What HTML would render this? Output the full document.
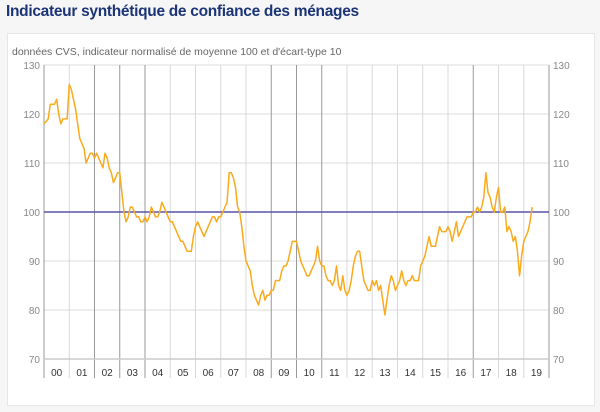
<!DOCTYPE html>
<html><head><meta charset="utf-8"><style>
body{margin:0;background:#f6f6f6;width:600px;height:412px;overflow:hidden;font-family:"Liberation Sans",sans-serif}
#title{position:absolute;left:6px;top:3px;font-size:15.5px;font-weight:bold;color:#1c3577;letter-spacing:-0.3px}
#card{position:absolute;left:7px;top:33px;width:586px;height:371px;background:#fff;border:1px solid #e6e6e6}
svg{position:absolute;left:0;top:0}
</style></head><body>
<div id="title">Indicateur synthétique de confiance des ménages</div>
<div id="card"></div>
<svg id="chart" width="600" height="412"></svg>
<script>
const years=["00","01","02","03","04","05","06","07","08","09","10","11","12","13","14","15","16","17","18","19"];
const yTicks=[70,80,90,100,110,120,130];
const refValue=100;
const values=[
118,118.5,119,122,122,122,123,120,118,119,119,119,
126,125,123,121,118,115,114,113,110,111,112,112,
111,112,111,110,109,112,111,109,108,106,107,108,
108,104,100,98,99,101,101,100,99,99,98,98,
99,98,99,101,100,99,99,100,102,101,100,99,
98,98,97,96,95,94,94,93,92,92,92,95,
97,98,97,96,95,96,97,98,99,99,98,99,
99,100,101,102,108,108,107,105,101,100,97,93,
90,89,88,85,83,82,81,83,84,82,83,83,
84,84,86,86,86,88,89,89,90,92,94,94,
94,92,90,89,88,87,87,88,89,90,93,90,
89,89,87,86,86,85,86,89,85,84,87,84,
83,84,86,89,91,92,92,89,86,85,84,84,
86,85,86,84,85,82,79,82,85,87,86,84,
85,86,88,86,85,86,86,87,86,86,86,89,
90,91,93,95,93,93,93,95,97,96,96,96,
97,96,94,96,98,95,96,97,98,99,99,99,
100,100,101,100,101,103,108,104,103,101,100,103,
105,100,100,101,96,97,96,94,95,92,87,91,
94,95,96,98,101];
const darkYears=[2,3,4,9,10,11,17];
const L=44,R=549,T=65,B=359,yMin=70,yMax=130;
const X=m=>L+m/12*(R-L)/years.length;
const Y=v=>B-(v-yMin)/(yMax-yMin)*(B-T);
const svg=document.getElementById('chart');
const NS='http://www.w3.org/2000/svg';
function mk(t,a){const e=document.createElementNS(NS,t);for(const k in a)e.setAttribute(k,a[k]);svg.appendChild(e);return e;}
const sub=mk('text',{x:12,y:55,'font-size':10.5,fill:'#666'});


sub.textContent="données CVS, indicateur normalisé de moyenne 100 et d'écart-type 10";
yTicks.forEach(t=>{
  const g=mk('line',{x1:L,x2:R,y1:Y(t),y2:Y(t),stroke:'#ddd','stroke-width':1});
  
  
  const a=mk('text',{x:L-4,y:Y(t)+4,'font-size':10,fill:'#888','text-anchor':'end'});
  
  
  a.textContent=t;
  const b=mk('text',{x:R+4,y:Y(t)+4,'font-size':10,fill:'#888'});
  
  
  b.textContent=t;
});
for(let i=0;i<=years.length;i++){
  const x=X(i*12);
  const dark=darkYears.includes(i)||i===0||i===years.length;
  const l=mk('line',{x1:x,x2:x,y1:T,y2:378,stroke:dark?'#999':'#d8d8d8','stroke-width':1});
  
  
}
years.forEach((y,i)=>{
  const t=mk('text',{x:X(i*12+6),y:376,'font-size':10,fill:'#333','text-anchor':'middle'});
  
  
  t.textContent=y;
});
const ax=mk('line',{x1:L,x2:R,y1:B,y2:B,stroke:'#ccc','stroke-width':1.5});


const ref=mk('line',{x1:L,x2:R,y1:Y(refValue),y2:Y(refValue),stroke:'#5c52a6','stroke-width':1.5});


const p=mk('polyline',{points:values.map((v,i)=>X(i)+','+Y(v)).join(' '),fill:'none',stroke:'#fbaa1b','stroke-width':1.5,'stroke-linejoin':'round'});


</script>
</body></html>
